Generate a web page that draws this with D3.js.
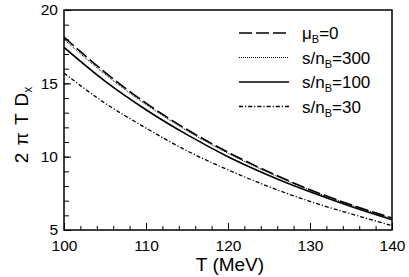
<!DOCTYPE html>
<html>
<head>
<meta charset="utf-8">
<script src="https://d3js.org/d3.v7.min.js"></script>
<style>
  body { margin: 0; background: #fff; }
  text { font-family: "Liberation Sans", Arial, sans-serif; fill: #000; }
</style>
</head>
<body>
<script>
// Temperatures (MeV) and 2 pi T D_x.
const temps = [100, 105, 110, 115, 120, 125, 130, 135, 140];
const muB0 = [18.15, 15.75, 13.65, 11.85, 10.3, 8.95, 7.75, 6.72, 5.82];
const snB300 = [18.0, 15.62, 13.55, 11.77, 10.23, 8.9, 7.72, 6.7, 5.78];
const snB100 = [17.45, 15.15, 13.2, 11.5, 10.0, 8.72, 7.6, 6.6, 5.7];
const snB30 = [15.7, 13.65, 11.95, 10.4, 9.1, 7.95, 6.95, 6.1, 5.3];

const xTicks = [100, 110, 120, 130, 140];
const yTicks = [5, 10, 15, 20];

const width = 409, height = 277;
const margin = {top: 10, right: 17, bottom: 47, left: 64};

let svg = d3.select("body").append("svg")
    .attr("width", width)
    .attr("height", height);

let x = d3.scaleLinear().domain([100, 140]).range([margin.left, width - margin.right]);
let y = d3.scaleLinear().domain([5, 20]).range([height - margin.bottom, margin.top]);

svg.append("clipPath").attr("id", "clip")
  .append("rect")
    .attr("x", margin.left).attr("y", margin.top)
    .attr("width", x(140) - x(100)).attr("height", y(5) - y(20));

// Minor and major ticks, pointing inwards.
svg.append("g")
    .attr("transform", `translate(0,${y(5)})`)
    .call(d3.axisBottom(x).tickValues(d3.range(100, 141, 2)).tickSize(-4).tickFormat(""))
    .call(g => g.select(".domain").remove());
svg.append("g")
    .attr("transform", `translate(0,${y(5)})`)
    .call(d3.axisBottom(x).tickValues(xTicks).tickSize(-7).tickPadding(10).tickFormat(d3.format("d")))
    .call(g => g.select(".domain").remove())
    .call(g => g.selectAll("text").attr("font-size", 15.5).attr("font-family", null));

svg.append("g")
    .attr("transform", `translate(${x(100)},0)`)
    .call(d3.axisLeft(y).tickValues(d3.range(5, 21, 1)).tickSize(-5).tickFormat(""))
    .call(g => g.select(".domain").remove());
svg.append("g")
    .attr("transform", `translate(${x(100)},0)`)
    .call(d3.axisLeft(y).tickValues(yTicks).tickSize(-7).tickPadding(6).tickFormat(d3.format("d")))
    .call(g => g.select(".domain").remove())
    .call(g => g.selectAll("text").attr("font-size", 15.5).attr("font-family", null));

svg.selectAll(".tick line").attr("stroke", "#000").attr("stroke-width", 1);

// Curves.
let series = [
  {name: "mu", values: muB0, dash: "13,4", w: 1.6},
  {name: "300", values: snB300, dash: "1,1", w: 1},
  {name: "100", values: snB100, dash: null, w: 1.6},
  {name: "30", values: snB30, dash: "4,2,1.2,2", w: 1.3}
];

let line = d3.line()
    .x((d, i) => x(temps[i]))
    .y(d => y(d))
    .curve(d3.curveMonotoneX);

svg.append("g").attr("clip-path", "url(#clip)")
  .selectAll("path")
  .data(series)
  .join("path")
    .attr("d", d => line(d.values))
    .attr("fill", "none")
    .attr("stroke", "#000")
    .attr("stroke-width", d => d.w)
    .attr("stroke-dasharray", d => d.dash);

// Frame.
svg.append("rect")
    .attr("x", x(100)).attr("y", y(20))
    .attr("width", x(140) - x(100)).attr("height", y(5) - y(20))
    .attr("fill", "none").attr("stroke", "#000").attr("stroke-width", 1.5);

// Legend.
let legendY = [33, 57.5, 82, 106.5];
let labels = [["μ", "B", "=0"], ["s/n", "B", "=300"], ["s/n", "B", "=100"], ["s/n", "B", "=30"]];
let leg = svg.append("g");
series.forEach((s, i) => {
  leg.append("line")
      .attr("x1", 239).attr("x2", 289)
      .attr("y1", legendY[i]).attr("y2", legendY[i])
      .attr("stroke", "#000")
      .attr("stroke-width", s.w)
      .attr("stroke-dasharray", s.dash);
  let t = leg.append("text")
      .attr("x", 302).attr("y", legendY[i] + 6)
      .attr("font-size", 17);
  t.append("tspan").text(labels[i][0]);
  t.append("tspan").attr("font-size", 11).attr("dy", 4).text(labels[i][1]);
  t.append("tspan").attr("dy", -4).text(labels[i][2]);
});

// Axis titles.
svg.append("text")
    .attr("x", (x(100) + x(140)) / 2 + 2)
    .attr("y", 271)
    .attr("text-anchor", "middle")
    .attr("font-size", 19)
    .text("T (MeV)");

let yt = svg.append("text")
    .attr("transform", `translate(28,${(y(5) + y(20)) / 2 + 5}) rotate(-90)`)
    .attr("text-anchor", "middle")
    .attr("font-size", 19)
    .attr("word-spacing", 2);
yt.append("tspan").text("2 π T D");
yt.append("tspan").attr("font-size", 12).attr("dy", 4).text("x");
</script>
</body>
</html>
